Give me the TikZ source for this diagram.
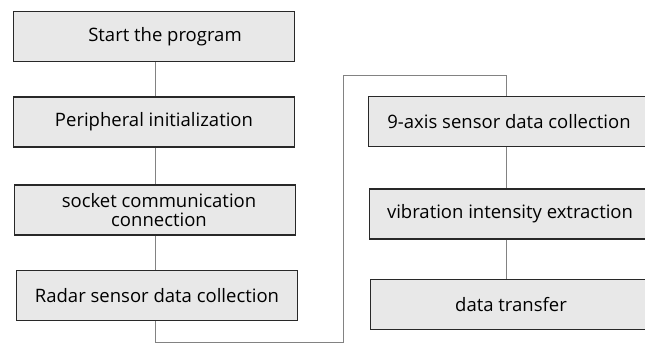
\documentclass[tikz,border=0pt]{standalone}
\usepackage{fontspec}
\setmainfont{Open Sans}
\usepackage{xcolor}
\definecolor{boxfill}{RGB}{232,232,232}
\definecolor{boxline}{RGB}{40,40,40}
\definecolor{linkline}{RGB}{130,130,130}

\tikzset{
  stepbox/.style={draw=boxline, line width=1.8pt, fill=boxfill,
    minimum width=281pt, minimum height=50pt, inner sep=2pt,
    align=center, font=\fontsize{18.5}{19}\selectfont},
  link/.style={draw=linkline, line width=0.9pt}
}

\begin{document}
\begin{tikzpicture}[x=1pt, y=-1pt]
            \useasboundingbox (0,0) rectangle (645,344);
            \fill[white] (0,0) rectangle (645,344);
            % left column
            \node[stepbox] (start)    at (154,36.5)  {\hspace*{22pt}Start the program};
            \node[stepbox] (periph)   at (154,122)   {Peripheral initialization};
            \node[stepbox] (socket)   at (155,210)   {\hspace*{8pt}socket communication\\\hspace*{8pt}connection};
            \node[stepbox] (radar)    at (157,295.5) {Radar sensor data collection};
            % right column
            \node[stepbox] (imu)      at (509,121.5) {9-axis sensor data collection};
            \node[stepbox] (vib)      at (510,214)   {vibration intensity extraction};
            \node[stepbox] (transfer) at (511,304.5) {data transfer};
            \coordinate (low)  at (343,342);
            \coordinate (high) at (343,75);
            \draw[link] (start.south -| 155,0) -- (periph.north -| 155,0);
            \draw[link] (periph.south -| 155,0) -- (socket.north -| 155,0);
            \draw[link] (socket.south -| 155,0) -- (radar.north -| 155,0);
            \draw[link] (radar.south -| 155,0) |- (low) -- (high) -| (imu.north -| 506,0);
            \draw[link] (imu.south -| 506,0) -- (vib.north -| 506,0);
            \draw[link] (vib.south -| 506,0) -- (transfer.north -| 506,0);
        \end{tikzpicture}
\end{document}
